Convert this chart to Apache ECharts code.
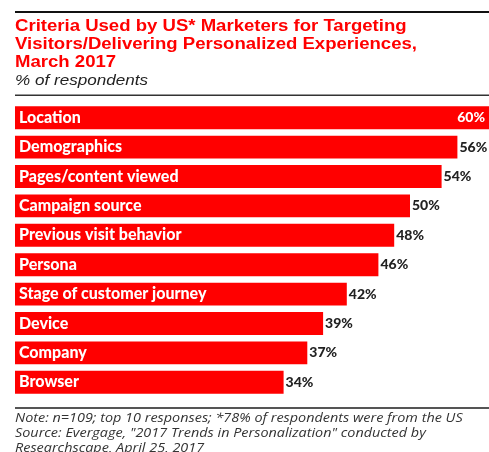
<!DOCTYPE html>
<html>
<head>
<meta charset="utf-8">
<script src="https://cdn.jsdelivr.net/npm/echarts@6/dist/echarts.min.js"></script>
<style>
  html, body { margin: 0; padding: 0; background: #fff; }
  #chart { width: 489px; height: 452px; }
</style>
</head>
<body>
<div id="chart"></div>
<script>
// Targeting criteria, top to bottom
const categories = [
  'Location', 'Demographics', 'Pages/content viewed', 'Campaign source',
  'Previous visit behavior', 'Persona', 'Stage of customer journey',
  'Device', 'Company', 'Browser'
];
const values = [60, 56, 54, 50, 48, 46, 42, 39, 37, 34];

const titleLines = [
  'Criteria Used by US* Marketers for Targeting',
  'Visitors/Delivering Personalized Experiences,',
  'March 2017'
];
const subtitle = '% of respondents';
const noteLines = [
  'Note: n=109; top 10 responses; *78% of respondents were from the US',
  'Source: Evergage, "2017 Trends in Personalization" conducted by',
  'Researchscape, April 25, 2017'
];

const RED = '#ff0000';
const chart = echarts.init(document.getElementById('chart'), null, { renderer: 'canvas' });

const graphics = [
  { type: 'rect', shape: { x: 15, y: 11, width: 474, height: 2 }, style: { fill: '#111' } },
  { type: 'rect', shape: { x: 15, y: 94.5, width: 474, height: 1.5 }, style: { fill: '#333' } },
  { type: 'rect', shape: { x: 15, y: 407, width: 474, height: 2 }, style: { fill: '#555' } }
];
titleLines.forEach((t, i) => graphics.push({
  type: 'text', x: 15, y: 27 + i * 18, scaleX: 1.16,
  style: { text: t, fill: RED, font: 'bold 16px "Liberation Sans", Arial, sans-serif', verticalAlign: 'middle' }
}));
graphics.push({
  type: 'text', x: 15, y: 81, scaleX: 1.14,
  style: { text: subtitle, fill: '#222', font: 'italic 15px "Liberation Sans", Arial, sans-serif', verticalAlign: 'middle' }
});
noteLines.forEach((t, i) => graphics.push({
  type: 'text', x: 15, y: 419 + i * 15, scaleX: 1.2,
  style: { text: t, fill: '#333', font: 'italic 12px "Open Sans", sans-serif', verticalAlign: 'middle' }
}));

chart.setOption({
  animation: false,
  grid: { left: 15, top: 103, width: 477, height: 294, containLabel: false },
  xAxis: {
    type: 'value', min: 0, max: 60,
    show: false
  },
  yAxis: {
    type: 'category', data: categories, inverse: true,
    show: false
  },
  series: [
    {
      type: 'bar',
      data: values.map((v, i) => ({
        value: v,
        label: i === 0
          ? { position: 'insideRight', color: '#fff', distance: 4 }
          : { position: 'right', color: '#222', distance: 2 }
      })),
      barCategoryGap: '22%',
      itemStyle: { color: RED },
      label: {
        show: true,
        formatter: '{c}%',
        fontFamily: 'Lato, sans-serif',
        fontWeight: 900,
        fontSize: 14
      }
    },
    {
      // category names drawn inside the bars
      type: 'bar',
      data: values,
      barGap: '-100%',
      barCategoryGap: '22%',
      itemStyle: { color: 'transparent' },
      silent: true,
      z: 3,
      label: {
        show: true,
        position: 'insideLeft',
        distance: 4,
        formatter: p => categories[p.dataIndex],
        color: '#fff',
        fontFamily: 'Lato, sans-serif',
        fontWeight: 900,
        fontSize: 16
      }
    }
  ],
  graphic: graphics
});
</script>
</body>
</html>
